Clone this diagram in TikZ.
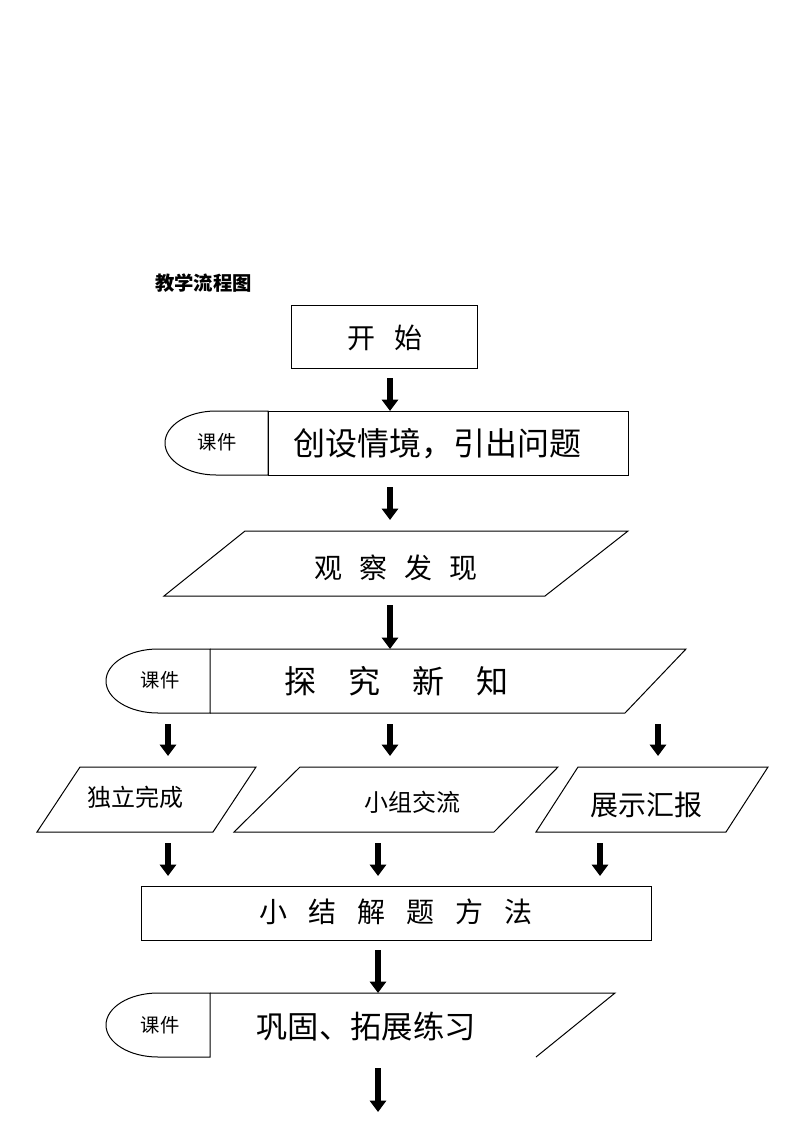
\documentclass[tikz,border=0pt]{standalone}
\usepackage{fontspec}
\newfontfamily\cjk{Noto Sans CJK SC}
\usetikzlibrary{arrows.meta}

\begin{document}
\begin{tikzpicture}[x=0.75pt,y=-0.75pt,line join=miter,
  shp/.style={line width=0.75pt},
  arr/.style={line width=4.5pt,-{Triangle[width=12pt,length=8.5pt]}},
  ttl/.style={inner sep=0pt,font=\cjk\bfseries\fontsize{14.5pt}{16pt}\selectfont},
  tbig/.style={inner sep=0pt,font=\cjk\fontsize{24pt}{26pt}\selectfont},
  tmed/.style={inner sep=0pt,font=\cjk\fontsize{21pt}{24pt}\selectfont},
  tsml/.style={inner sep=0pt,font=\cjk\fontsize{18pt}{20pt}\selectfont},
  ttab/.style={inner sep=0pt,font=\cjk\fontsize{14.5pt}{16pt}\selectfont}]
\useasboundingbox (0,0) rectangle (794,1123);

\node[ttl] (title) at (203.5,283.5) {教学流程图};

% start
\draw[shp] (291,305) rectangle (477,368);
\node[tmed] (kaishi) at (385,338) {开\hspace{0.7em}始};

% situation
\draw[shp] (268,411) -- (216,411) arc[start angle=270,end angle=90,x radius=51,y radius=32] -- (268,475) -- cycle;
\draw[shp] (268,411) rectangle (628,475);
\node[ttab] (kj1) at (217,442) {课件};
\node[tbig] (chuangshe) at (437,444) {创设情境，引出问题};

% observe
\draw[shp] (245,531) -- (628,531) -- (545,596) -- (164,596) -- cycle;
\node[tmed] (guancha) at (396,568) {观\hspace{0.6em}察\hspace{0.6em}发\hspace{0.6em}现};

% explore
\draw[shp] (210,649) -- (158,649) arc[start angle=270,end angle=90,x radius=52,y radius=32] -- (210,713) -- cycle;
\draw[shp] (210,649) -- (686,649) -- (625,713) -- (210,713);
\node[ttab] (kj2) at (160,680) {课件};
\node[tbig] (tanjiu) at (396,681) {探\hspace{1em}究\hspace{1em}新\hspace{1em}知};

% three ways
\draw[shp] (80,767) -- (256,767) -- (213,832) -- (37,832) -- cycle;
\draw[shp] (300,767) -- (558,767) -- (494,832) -- (234,832) -- cycle;
\draw[shp] (578,767) -- (768,767) -- (726,832) -- (536,832) -- cycle;
\node[tsml] (duli) at (135,797) {独立完成};
\node[tsml] (xiaozu) at (412,802) {小组交流};
\node[tmed] (zhanshi) at (646,805) {展示汇报};

% summary
\draw[shp] (141,886) rectangle (651,940);
\node[tmed] (xiaojie) at (396,912) {小\hspace{0.75em}结\hspace{0.75em}解\hspace{0.75em}题\hspace{0.75em}方\hspace{0.75em}法};

% practice
\draw[shp] (210,993) -- (158,993) arc[start angle=270,end angle=90,x radius=52,y radius=32] -- (210,1057) -- cycle;
\draw[shp] (210,993) -- (615,993) -- (536,1057);
\node[ttab] (kj3) at (160,1025) {课件};
\node[inner sep=0pt,font=\cjk\fontsize{23.5pt}{26pt}\selectfont] (gonggu) at (366,1027) {巩固、拓展练习};

% arrows
\foreach \x/\ya/\yb [count=\i] in {390/378/411, 390/487/520, 390/605/649,
    168/724/756, 390/724/756, 658/724/756,
    168/843/876, 378/843/876, 600/843/876,
    378/950/993, 378/1068/1112}{
  \coordinate (s\i) at (\x,\ya);
  \coordinate (e\i) at (\x,\yb);
  \draw[arr] (s\i) -- (e\i);
}
\end{tikzpicture}
\end{document}
